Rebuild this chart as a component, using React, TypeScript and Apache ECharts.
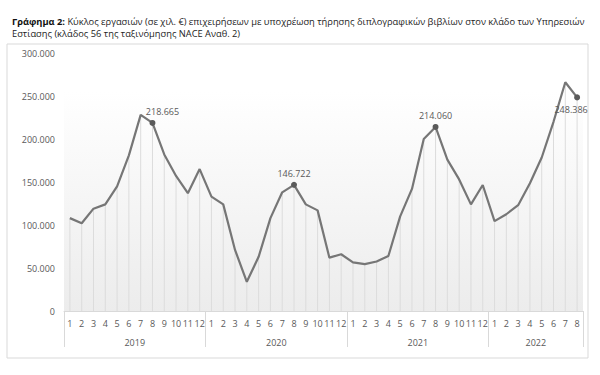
import React, { useEffect, useRef } from "react";
import * as echarts from "echarts";

const months2019 = ["1", "2", "3", "4", "5", "6", "7", "8", "9", "10", "11", "12"];
const months2020 = ["1", "2", "3", "4", "5", "6", "7", "8", "9", "10", "11", "12"];
const months2021 = ["1", "2", "3", "4", "5", "6", "7", "8", "9", "10", "11", "12"];
const months2022 = ["1", "2", "3", "4", "5", "6", "7", "8"];
const years = ["2019", "2020", "2021", "2022"];
const yearCenters = [6, 18, 30, 40];
const yearBounds = [0, 12, 24, 36, 44];

const v2019 = [108000, 102000, 119000, 124000, 145000, 181000, 228000, 218665, 182000, 157000, 137000, 165000];
const v2020 = [133000, 124000, 71000, 34000, 63000, 108000, 138000, 146722, 124000, 117000, 62000, 66000];
const v2021 = [56500, 54500, 57500, 64000, 110000, 142000, 200000, 214060, 176000, 153000, 124000, 146500];
const v2022 = [104500, 112500, 123000, 148500, 178500, 220000, 266000, 248386];

const labelled = [7, 19, 31, 43];
const yTicks = [0, 50000, 100000, 150000, 200000, 250000, 300000];

const titleBold = "Γράφημα 2:";
const titleRest1 = " Κύκλος εργασιών (σε χιλ. €) επιχειρήσεων με υποχρέωση τήρησης διπλογραφικών βιβλίων στον κλάδο των Υπηρεσιών";
const titleLine2 = "Εστίασης (κλάδος 56 της ταξινόμησης NACE Αναθ. 2)";

const fmt = (v: number) =>
  v === 0 ? "0" : String(Math.round(v)).replace(/\B(?=(\d{3})+(?!\d))/g, ".");

export default function App() {
  const ref = useRef<HTMLDivElement>(null);
  useEffect(() => {
    document.body.style.margin = "0";
    const chart = echarts.init(ref.current!, undefined, { renderer: "svg" });
    const cats = [...months2019, ...months2020, ...months2021, ...months2022];
    const values = [...v2019, ...v2020, ...v2021, ...v2022];
    const labelCfg: Record<number, any> = {
      7: { position: "top", distance: 4, offset: [10, 0] },
      19: { position: "top", distance: 4 },
      31: { position: "top", distance: 4 },
      43: { position: "bottom", distance: 5, offset: [-6, 0] },
    };
    const lineData = values.map((v, i) =>
      labelled.includes(i)
        ? {
            value: v,
            symbol: "circle",
            symbolSize: 6,
            label: { show: true, formatter: () => fmt(v), ...labelCfg[i] },
          }
        : { value: v, symbol: "none" }
    );
    const font = "'Open Sans', 'Noto Sans', sans-serif";
    chart.setOption({
      animation: false,
      textStyle: { fontFamily: font },
      title: {
        left: 7,
        top: 10,
        text: `{b|${titleBold}}${titleRest1}\n${titleLine2}`,
        textStyle: {
          fontFamily: font,
          fontSize: 9.3,
          fontWeight: "normal",
          color: "#222",
          lineHeight: 12,
          rich: {
            b: { fontFamily: font, fontSize: 9.3, fontWeight: "bold", color: "#111", lineHeight: 12 },
          },
        },
      },
      graphic: [
        {
          type: "rect",
          shape: { x: 7, y: 44, width: 581, height: 314 },
          style: { fill: "none", stroke: "#d9d9d9", lineWidth: 1 },
          silent: true,
          z: -1,
        },
      ],
      grid: {
        left: 64,
        right: 17,
        top: 53,
        bottom: 64,
        show: true,
        borderWidth: 0,
        backgroundColor: new echarts.graphic.LinearGradient(0, 0, 0, 1, [
          { offset: 0, color: "#ffffff" },
          { offset: 0.15, color: "#ffffff" },
          { offset: 1, color: "#ececec" },
        ]),
      },
      xAxis: [
        {
          type: "category",
          data: cats,
          position: "bottom",
          axisLine: { show: true, lineStyle: { color: "#d9d9d9", width: 1 } },
          axisTick: { show: false },
          axisLabel: { interval: 0, color: "#595959", fontSize: 9, margin: 8, fontFamily: font },
          splitLine: { show: false },
        },
        {
          type: "value",
          min: 0,
          max: 44,
          position: "bottom",
          axisLine: { show: false },
          axisTick: {
            show: true,
            length: 36,
            inside: false,
            customValues: yearBounds,
            lineStyle: { color: "#d9d9d9", width: 1 },
          },
          axisLabel: {
            show: true,
            customValues: yearCenters,
            margin: 27,
            color: "#595959",
            fontSize: 9,
            fontFamily: font,
            formatter: (v: number) => years[yearCenters.indexOf(v)] ?? "",
          },
          splitLine: { show: false },
        },
      ],
      yAxis: {
        type: "value",
        min: 0,
        max: 300000,
        interval: 50000,
        axisLine: { show: false },
        axisTick: { show: false },
        splitLine: { show: false },
        axisLabel: {
          color: "#595959",
          fontSize: 9,
          margin: 9,
          fontFamily: font,
          formatter: (v: number) => (yTicks.includes(v) ? fmt(v) : ""),
        },
      },
      series: [
        {
          type: "bar",
          data: values,
          barWidth: 1,
          itemStyle: { color: "#dcdcdc" },
          silent: true,
          z: 1,
        },
        {
          type: "line",
          data: lineData,
          showSymbol: true,
          lineStyle: { color: "#767676", width: 2.2 },
          itemStyle: { color: "#5a5a5a" },
          label: { color: "#595959", fontSize: 9, fontFamily: font },
          z: 3,
        },
      ],
    });
    return () => chart.dispose();
  }, []);
  return <div ref={ref} style={{ width: 600, height: 375 }} />;
}
